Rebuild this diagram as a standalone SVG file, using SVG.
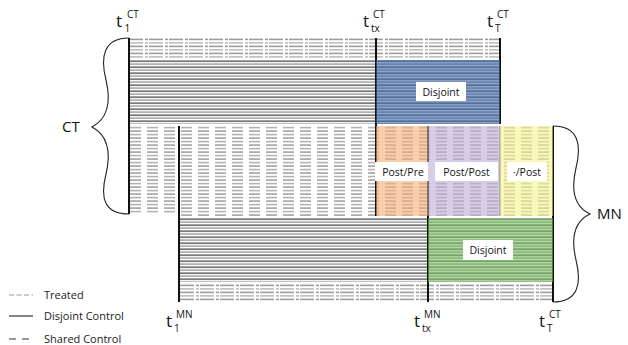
<svg xmlns="http://www.w3.org/2000/svg" width="628" height="345" viewBox="0 0 628 345">
<style>
.lbl{font-family:"Open Sans","DejaVu Sans",sans-serif;font-size:10.5px;fill:#111;text-anchor:middle}
.t{font-family:"Open Sans","DejaVu Sans",sans-serif;font-size:17px;fill:#111}
.s{font-family:"Open Sans","DejaVu Sans",sans-serif;font-size:10px;fill:#111}
.big{font-family:"Open Sans","DejaVu Sans",sans-serif;font-size:15px;fill:#111}
.leg{font-family:"Open Sans","DejaVu Sans",sans-serif;font-size:11px;fill:#222}
.vl{stroke:#111;stroke-width:2}
.box{fill:#fff}
.brace{fill:none;stroke:#222;stroke-width:1.1}
</style>
<defs>
<pattern id="trCT" width="20" height="7" patternUnits="userSpaceOnUse" x="129" y="38">
<rect x="0" y="0.6" width="14" height="1.6" fill="#9c9c9c"/><rect x="16" y="0.6" width="3" height="1.6" fill="#9c9c9c"/>
<rect x="0" y="4.1" width="14" height="1.6" fill="#bdbdbd"/><rect x="16" y="4.1" width="3" height="1.6" fill="#bdbdbd"/>
</pattern>
<pattern id="trMN" width="20" height="7" patternUnits="userSpaceOnUse" x="180" y="284">
<rect x="0" y="0.6" width="14" height="1.6" fill="#9c9c9c"/><rect x="16" y="0.6" width="3" height="1.6" fill="#9c9c9c"/>
<rect x="0" y="4.1" width="14" height="1.6" fill="#bdbdbd"/><rect x="16" y="4.1" width="3" height="1.6" fill="#bdbdbd"/>
</pattern>
<pattern id="dj" width="10" height="6" patternUnits="userSpaceOnUse" x="0" y="60">
<rect x="0" y="0.3" width="10" height="1.8" fill="#7a7a7a"/><rect x="0" y="3.3" width="10" height="1.6" fill="#a9a9a9"/>
</pattern>
<pattern id="djMN" width="10" height="6" patternUnits="userSpaceOnUse" x="0" y="218">
<rect x="0" y="0.3" width="10" height="1.8" fill="#7a7a7a"/><rect x="0" y="3.3" width="10" height="1.6" fill="#a9a9a9"/>
</pattern>
<pattern id="sh" width="17" height="7" patternUnits="userSpaceOnUse" x="130" y="126">
<rect x="0" y="0.8" width="11" height="1.6" fill="#b3b3b3"/><rect x="0" y="4.3" width="11" height="1.6" fill="#a3a3a3"/>
</pattern>
</defs>

<g id="bands">
<rect x="129" y="38" width="371" height="20" fill="url(#trCT)"/>
<rect x="129" y="60" width="371" height="64" fill="url(#dj)"/>
<rect x="129" y="126" width="424" height="88" fill="url(#sh)"/>
<rect x="179" y="214" width="374" height="2" fill="url(#sh)"/>
<rect x="179" y="218" width="374" height="64" fill="url(#djMN)"/>
<rect x="179" y="284" width="374" height="18" fill="url(#trMN)"/>
</g>

<g id="connectors">
<line class="vl" x1="129" y1="38" x2="129" y2="214"/>
<line class="vl" x1="376" y1="38" x2="376" y2="216"/>
<line class="vl" x1="500" y1="38" x2="500" y2="124"/>
<line x1="500" y1="126" x2="500" y2="216" stroke="#777" stroke-width="1.5"/>
<line class="vl" x1="179" y1="126" x2="179" y2="302"/>
<line class="vl" x1="428" y1="126" x2="428" y2="302"/>
<line class="vl" x1="553" y1="126" x2="553" y2="302"/>
<path class="brace" d="M129,38 C104,38 100,56 106,80 C111,101 109,118 92,127 C109,136 111,153 106,174 C100,198 104,214 129,214"/>
<path class="brace" d="M553,126 C578,126 582,144 576,168 C571,189 573,206 590,214 C573,222 571,239 576,260 C582,284 578,302 553,302"/>
</g>

<g id="disjointCT">
<rect x="376" y="60" width="124" height="64" fill="#3f69ac" fill-opacity="0.6"/>
<rect class="box" x="416" y="82" width="50" height="19"/>
<text class="lbl" x="441" y="95.5">Disjoint</text>
</g>
<g id="postpre">
<rect x="376" y="126" width="52" height="90" fill="#f3af71" fill-opacity="0.6"/>
<rect class="box" x="375" y="162" width="56" height="19"/>
<text class="lbl" x="403" y="175.5">Post/Pre</text>
</g>
<g id="postpost">
<rect x="428" y="126" width="72" height="90" fill="#bcacd5" fill-opacity="0.6"/>
<rect class="box" x="435" y="162" width="63" height="19"/>
<text class="lbl" x="466.5" y="175.5">Post/Post</text>
</g>
<g id="dotpost">
<rect x="500" y="126" width="53" height="90" fill="#f7f38a" fill-opacity="0.6"/>
<rect class="box" x="507" y="162" width="40" height="19"/>
<text class="lbl" x="527" y="175.5">·/Post</text>
</g>
<g id="disjointMN">
<rect x="428" y="218" width="125" height="64" fill="#7abc61" fill-opacity="0.6"/>
<rect class="box" x="463" y="240" width="50" height="20"/>
<text class="lbl" x="488" y="254">Disjoint</text>
</g>

<g id="labels">
<text class="t" x="116" y="27">t</text><text class="s" x="127" y="18">CT</text><text class="s" x="124.5" y="32">1</text>
<text class="t" x="363" y="27">t</text><text class="s" x="373" y="18">CT</text><text class="s" x="371" y="32">tx</text>
<text class="t" x="487" y="27">t</text><text class="s" x="497" y="18">CT</text><text class="s" x="495" y="32">T</text>
<text class="t" x="166" y="327">t</text><text class="s" x="176" y="318">MN</text><text class="s" x="174" y="332">1</text>
<text class="t" x="414" y="327">t</text><text class="s" x="424" y="318">MN</text><text class="s" x="422" y="332">tx</text>
<text class="t" x="539" y="327">t</text><text class="s" x="549" y="318">CT</text><text class="s" x="547" y="332">T</text>
<text class="big" x="62" y="132">CT</text>
<text class="big" x="597" y="219">MN</text>
</g>

<g id="legend">
<line x1="9" y1="295" x2="33" y2="295" stroke="#bbb" stroke-width="1.5" stroke-dasharray="5 2.5"/>
<line x1="9" y1="316" x2="33" y2="316" stroke="#777" stroke-width="1.8"/>
<line x1="9" y1="339" x2="33" y2="339" stroke="#999" stroke-width="1.8" stroke-dasharray="7 6"/>
<text class="leg" x="44" y="299">Treated</text>
<text class="leg" x="44" y="320">Disjoint Control</text>
<text class="leg" x="44" y="343">Shared Control</text>
</g>
</svg>
